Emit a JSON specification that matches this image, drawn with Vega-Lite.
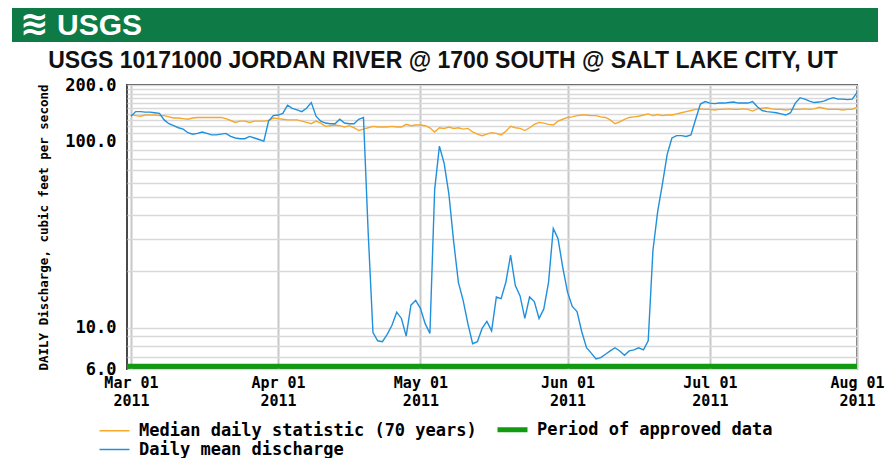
{
  "$schema": "https://vega.github.io/schema/vega-lite/v6.json",
  "background": "white",
  "padding": {"left": 12, "top": 8, "right": 0, "bottom": 0},
  "spacing": 7,
  "config": {
    "view": {"stroke": "#4a4a4a", "strokeWidth": 2},
    "axis": {
      "labelFont": "DejaVu Sans Mono", "labelFontWeight": "bold", "labelFontSize": 17, "labelColor": "#000",
      "titleFont": "DejaVu Sans Mono", "titleFontWeight": "bold", "titleColor": "#000"
    },
    "legend": {"labelFont": "DejaVu Sans Mono", "labelFontWeight": "bold", "labelFontSize": 17, "labelColor": "#000", "padding": 0}
  },
  "datasets": {
    "flow": [
      {"date":"2011-03-01","median":139,"mean":136},{"date":"2011-03-02","median":137,"mean":144},{"date":"2011-03-03","median":136,"mean":144},{"date":"2011-03-04","median":138,"mean":143},{"date":"2011-03-05","median":138,"mean":143},{"date":"2011-03-06","median":138,"mean":142},{"date":"2011-03-07","median":137,"mean":141},{"date":"2011-03-08","median":137,"mean":130},{"date":"2011-03-09","median":135,"mean":124},{"date":"2011-03-10","median":133,"mean":121},{"date":"2011-03-11","median":133,"mean":118},{"date":"2011-03-12","median":132,"mean":116},{"date":"2011-03-13","median":131,"mean":111},{"date":"2011-03-14","median":133,"mean":109},{"date":"2011-03-15","median":134,"mean":110},{"date":"2011-03-16","median":134,"mean":112},{"date":"2011-03-17","median":134,"mean":110},{"date":"2011-03-18","median":134,"mean":108},{"date":"2011-03-19","median":134,"mean":108},{"date":"2011-03-20","median":134,"mean":109},{"date":"2011-03-21","median":132,"mean":110},{"date":"2011-03-22","median":129,"mean":106},{"date":"2011-03-23","median":126,"mean":104},{"date":"2011-03-24","median":128,"mean":103},{"date":"2011-03-25","median":128,"mean":103},{"date":"2011-03-26","median":126,"mean":106},{"date":"2011-03-27","median":128,"mean":104},{"date":"2011-03-28","median":128,"mean":102},{"date":"2011-03-29","median":128,"mean":100},{"date":"2011-03-30","median":129,"mean":128},{"date":"2011-03-31","median":133,"mean":137},
      {"date":"2011-04-01","median":132,"mean":138},{"date":"2011-04-02","median":131,"mean":141},{"date":"2011-04-03","median":130,"mean":156},{"date":"2011-04-04","median":130,"mean":150},{"date":"2011-04-05","median":130,"mean":147},{"date":"2011-04-06","median":128,"mean":144},{"date":"2011-04-07","median":126,"mean":150},{"date":"2011-04-08","median":124,"mean":161},{"date":"2011-04-09","median":128,"mean":136},{"date":"2011-04-10","median":125,"mean":128},{"date":"2011-04-11","median":120,"mean":125},{"date":"2011-04-12","median":121,"mean":124},{"date":"2011-04-13","median":122,"mean":124},{"date":"2011-04-14","median":121,"mean":131},{"date":"2011-04-15","median":119,"mean":125},{"date":"2011-04-16","median":121,"mean":124},{"date":"2011-04-17","median":118,"mean":124},{"date":"2011-04-18","median":114,"mean":131},{"date":"2011-04-19","median":116,"mean":134},{"date":"2011-04-20","median":118,"mean":32},{"date":"2011-04-21","median":120,"mean":9.4},{"date":"2011-04-22","median":119,"mean":8.5},{"date":"2011-04-23","median":119,"mean":8.4},{"date":"2011-04-24","median":119,"mean":9.2},{"date":"2011-04-25","median":120,"mean":10.3},{"date":"2011-04-26","median":119,"mean":12.1},{"date":"2011-04-27","median":119,"mean":11.2},{"date":"2011-04-28","median":123,"mean":9.0},{"date":"2011-04-29","median":121,"mean":13.2},{"date":"2011-04-30","median":122,"mean":14.0},
      {"date":"2011-05-01","median":122,"mean":12.7},{"date":"2011-05-02","median":121,"mean":10.5},{"date":"2011-05-03","median":118,"mean":9.3},{"date":"2011-05-04","median":112,"mean":55},{"date":"2011-05-05","median":118,"mean":94},{"date":"2011-05-06","median":117,"mean":76},{"date":"2011-05-07","median":119,"mean":52},{"date":"2011-05-08","median":117,"mean":29},{"date":"2011-05-09","median":118,"mean":17.5},{"date":"2011-05-10","median":116,"mean":14},{"date":"2011-05-11","median":117,"mean":10.5},{"date":"2011-05-12","median":112,"mean":8.2},{"date":"2011-05-13","median":109,"mean":8.4},{"date":"2011-05-14","median":107,"mean":9.9},{"date":"2011-05-15","median":109,"mean":10.8},{"date":"2011-05-16","median":111,"mean":9.6},{"date":"2011-05-17","median":110,"mean":14.6},{"date":"2011-05-18","median":108,"mean":14.3},{"date":"2011-05-19","median":113,"mean":17.5},{"date":"2011-05-20","median":120,"mean":24.5},{"date":"2011-05-21","median":118,"mean":16.8},{"date":"2011-05-22","median":117,"mean":14.8},{"date":"2011-05-23","median":114,"mean":11.2},{"date":"2011-05-24","median":118,"mean":14.6},{"date":"2011-05-25","median":123,"mean":13.8},{"date":"2011-05-26","median":126,"mean":11.2},{"date":"2011-05-27","median":125,"mean":12.6},{"date":"2011-05-28","median":123,"mean":17.5},{"date":"2011-05-29","median":122,"mean":34},{"date":"2011-05-30","median":128,"mean":30},{"date":"2011-05-31","median":131,"mean":21},
      {"date":"2011-06-01","median":134,"mean":15.5},{"date":"2011-06-02","median":135,"mean":13},{"date":"2011-06-03","median":137,"mean":12.2},{"date":"2011-06-04","median":138,"mean":9.5},{"date":"2011-06-05","median":138,"mean":7.8},{"date":"2011-06-06","median":137,"mean":7.3},{"date":"2011-06-07","median":137,"mean":6.8},{"date":"2011-06-08","median":135,"mean":6.9},{"date":"2011-06-09","median":134,"mean":7.2},{"date":"2011-06-10","median":130,"mean":7.5},{"date":"2011-06-11","median":124,"mean":7.8},{"date":"2011-06-12","median":127,"mean":7.5},{"date":"2011-06-13","median":131,"mean":7.1},{"date":"2011-06-14","median":134,"mean":7.5},{"date":"2011-06-15","median":135,"mean":7.6},{"date":"2011-06-16","median":136,"mean":7.8},{"date":"2011-06-17","median":138,"mean":7.6},{"date":"2011-06-18","median":140,"mean":8.5},{"date":"2011-06-19","median":137,"mean":26},{"date":"2011-06-20","median":139,"mean":42},{"date":"2011-06-21","median":137,"mean":59},{"date":"2011-06-22","median":138,"mean":85},{"date":"2011-06-23","median":138,"mean":104},{"date":"2011-06-24","median":140,"mean":107},{"date":"2011-06-25","median":142,"mean":107},{"date":"2011-06-26","median":144,"mean":106},{"date":"2011-06-27","median":146,"mean":108},{"date":"2011-06-28","median":148,"mean":131},{"date":"2011-06-29","median":149,"mean":158},{"date":"2011-06-30","median":148,"mean":163},
      {"date":"2011-07-01","median":148,"mean":160},{"date":"2011-07-02","median":147,"mean":159},{"date":"2011-07-03","median":148,"mean":160},{"date":"2011-07-04","median":148,"mean":160},{"date":"2011-07-05","median":149,"mean":161},{"date":"2011-07-06","median":148,"mean":162},{"date":"2011-07-07","median":148,"mean":160},{"date":"2011-07-08","median":149,"mean":160},{"date":"2011-07-09","median":148,"mean":160},{"date":"2011-07-10","median":145,"mean":163},{"date":"2011-07-11","median":149,"mean":153},{"date":"2011-07-12","median":150,"mean":146},{"date":"2011-07-13","median":151,"mean":144},{"date":"2011-07-14","median":149,"mean":143},{"date":"2011-07-15","median":148,"mean":142},{"date":"2011-07-16","median":148,"mean":140},{"date":"2011-07-17","median":147,"mean":138},{"date":"2011-07-18","median":148,"mean":142},{"date":"2011-07-19","median":148,"mean":160},{"date":"2011-07-20","median":148,"mean":171},{"date":"2011-07-21","median":149,"mean":168},{"date":"2011-07-22","median":148,"mean":164},{"date":"2011-07-23","median":149,"mean":161},{"date":"2011-07-24","median":152,"mean":162},{"date":"2011-07-25","median":150,"mean":164},{"date":"2011-07-26","median":148,"mean":168},{"date":"2011-07-27","median":148,"mean":171},{"date":"2011-07-28","median":148,"mean":168},{"date":"2011-07-29","median":147,"mean":168},{"date":"2011-07-30","median":148,"mean":167},{"date":"2011-07-31","median":148,"mean":168},
      {"date":"2011-08-01","median":152,"mean":182}
    ],
    "approved": [
      {"start": "2011-02-01", "end": "2011-08-31", "series": "approved", "value": 6.2}
    ],
    "logo": [
      {"waves": "≋", "name": "USGS"}
    ]
  },
  "vconcat": [
    {
      "width": 866,
      "height": 34,
      "data": {"name": "logo"},
      "view": {"fill": "#0e7a45", "stroke": null},
      "layer": [
        {
          "mark": {"type": "text", "align": "left", "baseline": "middle", "dx": 8, "color": "white", "fontSize": 34, "font": "DejaVu Sans", "fontWeight": "bold"},
          "encoding": {
            "x": {"datum": 0, "type": "quantitative", "scale": {"domain": [0, 1]}, "axis": null},
            "text": {"field": "waves"}
          }
        },
        {
          "mark": {"type": "text", "align": "left", "baseline": "middle", "dx": 45, "dy": 1, "color": "white", "fontSize": 30, "font": "Liberation Sans", "fontWeight": "bold"},
          "encoding": {
            "x": {"datum": 0, "type": "quantitative", "scale": {"domain": [0, 1]}, "axis": null},
            "text": {"field": "name"}
          }
        }
      ]
    },
    {
      "bounds": "flush",
      "spacing": 0,
      "hconcat": [
        {
          "width": 115,
          "height": 284,
          "data": {"values": []},
          "view": {"stroke": null},
          "mark": "point"
        },
        {
          "width": 730,
          "height": 284,
          "title": {
            "text": "USGS 10171000 JORDAN RIVER @ 1700 SOUTH @ SALT LAKE CITY, UT",
            "anchor": "middle", "frame": "group", "offset": 3, "dx": -49,
            "font": "Liberation Sans", "fontWeight": "bold", "fontSize": 23, "color": "#111"
          },
          "layer": [
            {
              "data": {"name": "flow"},
              "transform": [{"fold": ["median", "mean"], "as": ["series", "value"]}],
              "mark": {"type": "line", "strokeWidth": 1.4, "clip": true},
              "encoding": {
                "x": {
                  "field": "date", "type": "temporal", "title": null,
                  "scale": {"type": "utc", "domain": [{"year": 2011, "month": 2, "date": 28, "hours": 4, "utc": true}, {"year": 2011, "month": 8, "date": 1, "utc": true}]},
                  "axis": {
                    "values": [
                      {"year": 2011, "month": 3, "date": 1, "utc": true},
                      {"year": 2011, "month": 4, "date": 1, "utc": true},
                      {"year": 2011, "month": 5, "date": 1, "utc": true},
                      {"year": 2011, "month": 6, "date": 1, "utc": true},
                      {"year": 2011, "month": 7, "date": 1, "utc": true},
                      {"year": 2011, "month": 8, "date": 1, "utc": true}
                    ],
                    "labelExpr": "[utcFormat(datum.value, '%b %d'), utcFormat(datum.value, '%Y')]",
                    "ticks": false, "domain": false, "grid": true, "gridColor": "#c8c8c8", "gridWidth": 2,
                    "labelFontSize": 15, "labelPadding": 6, "labelFlush": false, "labelOverlap": false, "labelLineHeight": 18
                  }
                },
                "y": {
                  "field": "value", "type": "quantitative", "title": "DAILY Discharge, cubic feet per second",
                  "scale": {"type": "log", "domain": [6, 200], "nice": false},
                  "axis": {
                    "values": [6, 7, 8, 9, 10, 20, 30, 40, 50, 60, 70, 80, 90, 100, 110, 120, 130, 140, 150, 160, 170, 180, 190, 200],
                    "labelExpr": "indexof([6, 10, 100, 200], datum.value) >= 0 ? format(datum.value, '.1f') : ''",
                    "ticks": false, "domain": false, "grid": true, "gridColor": "#d9d9d9", "gridWidth": 1.5,
                    "labelPadding": 11, "labelOverlap": false, "titleFontSize": 12.5, "titlePadding": 14
                  }
                },
                "color": {
                  "field": "series", "type": "nominal",
                  "scale": {"domain": ["median", "approved", "mean"], "range": ["#f7a72b", "#119b11", "#2190dc"]},
                  "legend": {
                    "orient": "none", "legendX": 94, "legendY": 413, "columns": 2, "direction": "horizontal",
                    "title": null, "symbolType": "stroke", "symbolSize": 900, "symbolStrokeWidth": 1.5,
                    "rowPadding": 0, "columnPadding": 10, "labelOffset": 16, "labelLimit": 0,
                    "labelExpr": "datum.value === 'median' ? 'Median daily statistic (70 years)' : datum.value === 'approved' ? 'Period of approved data' : 'Daily mean discharge'",
                    "encode": {"symbols": {"update": {"strokeWidth": {"signal": "datum.value === 'approved' ? 5 : 1.5"}}}}
                  }
                }
              }
            },
            {
              "data": {"name": "approved"},
              "mark": {"type": "rule", "strokeWidth": 5, "clip": true},
              "encoding": {
                "x": {"field": "start", "type": "temporal"},
                "x2": {"field": "end"},
                "y": {"field": "value", "type": "quantitative"},
                "color": {"field": "series", "type": "nominal"}
              }
            }
          ]
        }
      ]
    }
  ]
}
